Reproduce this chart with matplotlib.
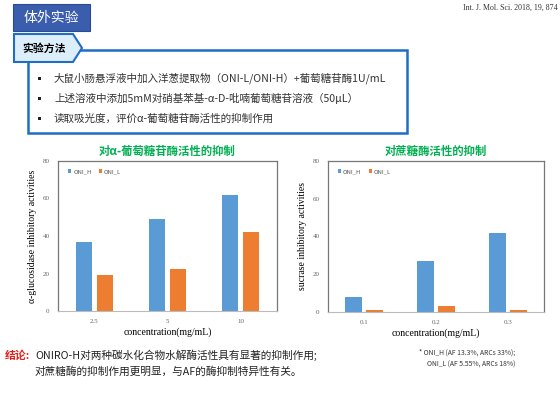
import matplotlib
matplotlib.use("Agg")
import matplotlib.pyplot as plt
from matplotlib.patches import Rectangle, Polygon
import numpy as np

plt.rcParams['font.family'] = ['Noto Sans CJK SC', 'DejaVu Sans']

# data
glu_conc = ["2.5", "5", "10"]
glu_h = [37, 49, 62]
glu_l = [19, 22.5, 42]
suc_conc = ["0.1", "0.2", "0.3"]
suc_h = [8, 27, 42]
suc_l = [1, 3, 1]
series_names = ["ONI_H", "ONI_L"]
bullets = [
    "大鼠小肠悬浮液中加入洋葱提取物（ONI-L/ONI-H）+葡萄糖苷酶1U/mL",
    "上述溶液中添加5mM对硝基苯基-α-D-吡喃葡萄糖苷溶液（50μL）",
    "读取吸光度，评价α-葡萄糖苷酶活性的抑制作用",
]

BLUE = "#5B9BD5"
ORANGE = "#ED7D31"
FRAME = "#1F6EC4"
GREEN = "#00B050"
SERIF = "Liberation Serif"

W, H = 560, 394
fig = plt.figure(figsize=(W / 100, H / 100), dpi=100)

# slide background layer in pixel coords
bg = fig.add_axes([0, 0, 1, 1])
bg.set_xlim(0, W)
bg.set_ylim(H, 0)
bg.axis("off")

bg.add_patch(Rectangle((13, 4), 77, 27, facecolor="#3A5DAE", edgecolor="#2B4A94", lw=0.8))
bg.text(51.5, 17.5, "体外实验", color="white", fontsize=10, ha="center", va="center")
bg.text(558, 8, "Int. J. Mol. Sci. 2018, 19, 874", family=SERIF, fontsize=5.7,
        ha="right", va="center", color="#333333")

# method box
bg.add_patch(Rectangle((28, 50), 379, 83, facecolor="white", edgecolor=FRAME, lw=1.8))
bg.add_patch(Polygon([(14, 34), (73, 34), (82, 48), (73, 62), (14, 62)], closed=True,
                     facecolor="#DDEEFB", edgecolor=FRAME, lw=1.5))
bg.text(22, 48, "实验方法", fontsize=7.8, weight="bold", ha="left", va="center")
for i, b in enumerate(bullets):
    y = 78.5 + i * 20
    bg.add_patch(Rectangle((37.5, y - 2), 3.5, 3.5, facecolor="#222222", edgecolor="none"))
    bg.text(54, y, b, fontsize=7.6, ha="left", va="center", color="#333333")

# conclusion
bg.text(5, 355, "结论:", fontsize=7.8, weight="bold", color="#E0201B", ha="left", va="center")
bg.text(35, 355, "ONIRO-H对两种碳水化合物水解酶活性具有显著的抑制作用;", fontsize=7.7,
        ha="left", va="center", color="#222222")
bg.text(35, 372, "对蔗糖酶的抑制作用更明显，与AF的酶抑制特异性有关。", fontsize=7.7,
        ha="left", va="center", color="#222222")
bg.text(515, 353, "* ONI_H (AF 13.3%, ARCs 33%);", fontsize=4.9, ha="right", va="center",
        color="#333333")
bg.text(515, 365, "ONI_L (AF 5.55%, ARCs 18%)", fontsize=4.9, ha="right", va="center",
        color="#333333")


def bar_chart(rect, cats, hv, lv, title, ylabel):
    ax = fig.add_axes(rect)
    x = np.arange(len(cats))
    ax.bar(x - 0.145, hv, 0.23, color=BLUE, label=series_names[0])
    ax.bar(x + 0.145, lv, 0.23, color=ORANGE, label=series_names[1])
    ax.set_xlim(-0.5, len(cats) - 0.5)
    ax.set_ylim(0, 80)
    ax.set_yticks([0, 20, 40, 60, 80])
    ax.set_xticks(x)
    ax.set_xticklabels(cats)
    ax.tick_params(length=0, labelsize=5, colors="#666666", pad=6)
    for lab in ax.get_xticklabels() + ax.get_yticklabels():
        lab.set_family(SERIF)
    for s in ["left", "top", "right"]:
        ax.spines[s].set_color("#777777")
        ax.spines[s].set_linewidth(0.9)
    ax.spines["bottom"].set_color("#BBBBBB")
    ax.spines["bottom"].set_linewidth(0.8)
    ax.set_xlabel("concentration(mg/mL)", family=SERIF, fontsize=7, labelpad=2)
    ax.set_ylabel(ylabel, family=SERIF, fontsize=7, labelpad=4)
    ax.set_title(title, fontsize=8.2, weight="bold", color=GREEN, pad=4)
    ax.legend(loc="upper left", frameon=False, ncol=2, fontsize=4.3,
              handlelength=0.6, handleheight=0.6, handletextpad=0.3,
              columnspacing=1.2, labelcolor="#555555", bbox_to_anchor=(0.02, 0.98))
    return ax


bar_chart([58 / W, (H - 311) / H, 219 / W, 150 / H], glu_conc, glu_h, glu_l,
          "对α-葡萄糖苷酶活性的抑制", "α-glucosidase inhibitory activities")
bar_chart([328 / W, (H - 312) / H, 216 / W, 151 / H], suc_conc, suc_h, suc_l,
          "对蔗糖酶活性的抑制", "sucrase inhibitory activities")

fig.savefig("out.png", dpi=100)
